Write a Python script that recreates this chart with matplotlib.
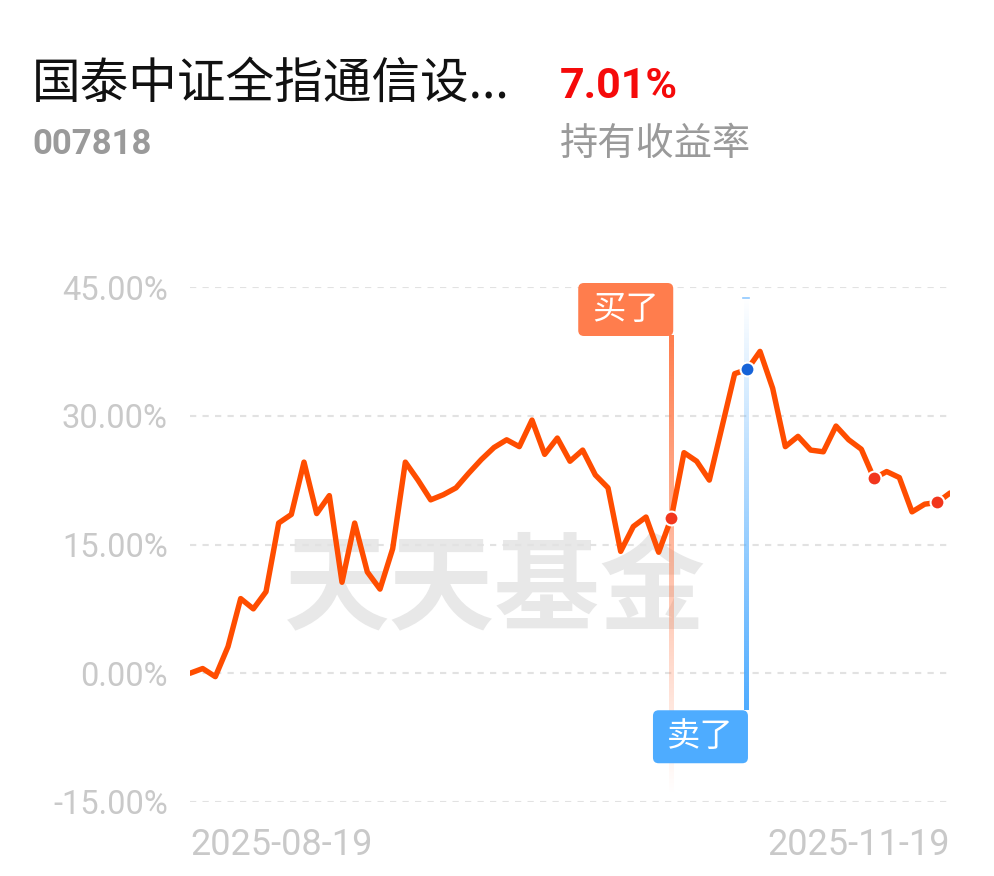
import matplotlib
matplotlib.use("Agg")
import matplotlib.pyplot as plt
import numpy as np
from matplotlib.patches import FancyBboxPatch

plt.rcParams['font.family'] = ['Roboto', 'Noto Sans CJK SC', 'DejaVu Sans']

# holding return (%) per trading day, 2025-08-19 .. 2025-11-19
returns = [0.0, 0.55, -0.4, 3.1, 8.7, 7.5, 9.5, 17.5, 18.5, 24.6,
           18.6, 20.7, 10.6, 17.5, 11.8, 9.8, 14.5, 24.6, 22.5, 20.2,
           20.8, 21.6, 23.3, 24.9, 26.3, 27.2, 26.4, 29.5, 25.5, 27.4,
           24.7, 26.0, 23.1, 21.6, 14.2, 17.1, 18.2, 14.1, 18.1, 25.7,
           24.7, 22.5, 28.7, 34.9, 35.4, 37.5, 33.2, 26.4, 27.6, 26.0,
           25.8, 28.8, 27.2, 26.1, 22.7, 23.5, 22.8, 18.8, 19.7, 19.9,
           21.0]
buy_idx = [38, 54, 59]
sell_idx = [44]
y_ticks = [-15, 0, 15, 30, 45]
x_labels = ['2025-08-19', '2025-11-19']

fund_name = '国泰中证全指通信设...'
fund_code = '007818'
hold_return = '7.01%'

LINE = '#FF4D00'
BUY = '#FF7D4D'
SELL = '#4EACFF'
GRID = '#E2E2E2'
TICK = '#C9C9C9'

fig = plt.figure(figsize=(9.94, 8.76), dpi=100)
fig.patch.set_facecolor('white')

fig.text(32/994, 1-84/876, fund_name, fontsize=35, color='#111111',
         family=['Noto Sans CJK SC', 'DejaVu Sans'], va='center', ha='left')
fig.text(560/994, 1-86/876, hold_return, fontsize=31, color='#F50A0A',
         weight='bold', va='center', ha='left')
fig.text(32/994, 1-145/876, fund_code, fontsize=25, color='#9A9A9A',
         weight='bold', va='center', ha='left')
fig.text(560/994, 1-145/876, '持有收益率', fontsize=27.5, color='#9A9A9A',
         family=['Noto Sans CJK SC'], va='center', ha='left')

ax = fig.add_axes([190/994, 74/876, 760/994, 515/876])
ax.set_facecolor('none')
x = np.arange(len(returns))
xlim = (0, len(returns) - 1)
ylim = (-15, 45)

for s in ax.spines.values():
    s.set_visible(False)

for yt in y_ticks:
    ax.axhline(yt, color=GRID, lw=1.5, ls=(0, (3, 3)), zorder=1)

ax.set_yticks(y_ticks)
ax.set_yticklabels([f'{v:.2f}%' for v in y_ticks])
ax.set_xticks([x[0], x[-1]])
ax.set_xticklabels(x_labels)
ax.tick_params(length=0, colors=TICK)
ax.tick_params(axis='y', labelsize=23.5, pad=16)
ax.tick_params(axis='x', labelsize=26, pad=18)
xl = ax.get_xticklabels()
xl[0].set_ha('left')
xl[1].set_ha('right')

# watermark
ax.text(0.401, 0.41, '天天基金', transform=ax.transAxes, fontsize=76,
        weight='heavy', color='#E8E8E8', ha='center', va='center',
        family=['Noto Sans CJK SC'], zorder=0)

px_x = 760 / (len(returns) - 1)  # px per index
px_y = 515 / 60                    # px per %


def grad_vline(xv, y0, y1, color, a0, a1, width_px):
    # vertical bar fading from alpha a0 (at y0) to a1 (at y1)
    rgb = matplotlib.colors.to_rgb(color)
    n = 200
    img = np.zeros((n, 1, 4))
    img[:, 0, :3] = rgb
    img[:, 0, 3] = np.linspace(a0, a1, n)
    hw = width_px / px_x / 2
    ax.imshow(img, extent=[xv - hw, xv + hw, y1, y0], origin='upper',
              aspect='auto', interpolation='bilinear', clip_on=False, zorder=2)


box_w = 95 / px_x
box_h = 53 / px_y

# buy marker label
b = buy_idx[0]
b_top = 45 + 4 / px_y
grad_vline(b, b_top - box_h, -14.2, BUY, 1.0, 0.0, 4.5)
ax.add_patch(FancyBboxPatch((b + 0.15 - box_w, b_top - box_h), box_w, box_h,
                            boxstyle='round,pad=0,rounding_size=0.45',
                            mutation_aspect=px_x / px_y, fc=BUY, ec='none',
                            clip_on=False, zorder=3))
ax.text(b + 0.15 - box_w / 2, b_top - box_h / 2, '买了', color='white',
        fontsize=24, ha='center', va='center',
        family=['Noto Sans CJK SC'], zorder=4)

# sell marker label
s = sell_idx[0]
s_top = -37 / px_y
grad_vline(s - 0.12, 43.7, s_top, SELL, 0.0, 1.0, 4.5)
ax.plot([s - 0.37, s + 0.13], [43.7, 43.7], color='#8FC8FF', lw=1.2,
        clip_on=False, zorder=2)
ax.add_patch(FancyBboxPatch((s + 0.05 - box_w, s_top - box_h), box_w, box_h,
                            boxstyle='round,pad=0,rounding_size=0.45',
                            mutation_aspect=px_x / px_y, fc=SELL, ec='none',
                            clip_on=False, zorder=3))
ax.text(s + 0.05 - box_w / 2, s_top - box_h / 2, '卖了', color='white',
        fontsize=24, ha='center', va='center',
        family=['Noto Sans CJK SC'], zorder=4)

ax.plot(x, returns, color=LINE, lw=3.9, solid_joinstyle='round',
        solid_capstyle='round', zorder=5)

ax.plot(buy_idx, [returns[i] for i in buy_idx], 'o', ms=10, mfc='#F2361C',
        mec='white', mew=1.5, zorder=6, clip_on=False)
ax.plot(sell_idx, [returns[i] for i in sell_idx], 'o', ms=10, mfc='#1663D8',
        mec='white', mew=1.5, zorder=6, clip_on=False)

ax.set_xlim(*xlim)
ax.set_ylim(*ylim)

fig.savefig('out.png', dpi=100, facecolor='white')
